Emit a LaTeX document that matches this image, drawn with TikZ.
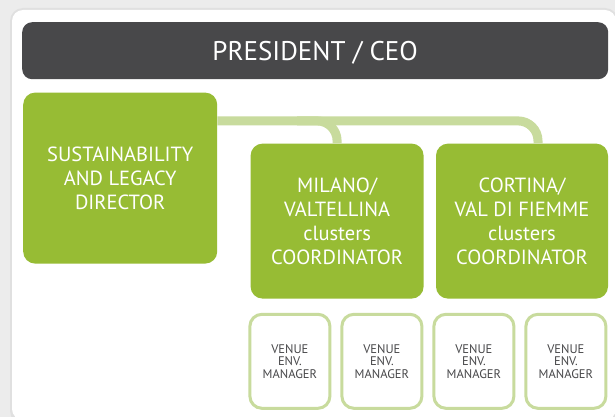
\documentclass[tikz,border=0pt]{standalone}
\usepackage{fontspec}
\setmainfont{PT Sans}
\usepackage{tikz}
\usetikzlibrary{positioning, calc}
\definecolor{pageGray}{RGB}{236, 236, 236}
\definecolor{shadowGray}{RGB}{224, 224, 224}
\definecolor{ceoBg}{RGB}{72, 72, 74}
\definecolor{greenBoxBg}{RGB}{151, 188, 52}
\definecolor{greenLineFg}{RGB}{200, 219, 157}
\definecolor{venueFg}{RGB}{72, 72, 74}
\tikzstyle{ceobox} = [rectangle, rounded corners=10pt, fill=ceoBg, text=white, minimum width=586pt, minimum height=57pt, text depth=0pt, font=\fontsize{27}{30}\selectfont]
\tikzstyle{greenbox} = [rectangle, rounded corners=12pt, fill=greenBoxBg, text=white, align=center, font=\fontsize{20.5}{24}\selectfont]
\tikzstyle{venuebox} = [rectangle, rounded corners=12pt, draw=greenLineFg, line width=3pt, fill=white, text=venueFg, align=center, minimum width=80pt, minimum height=94pt, font=\fontsize{12.5}{12.5}\selectfont]
\tikzstyle{conn} = [draw=greenLineFg, line width=9pt, rounded corners=20pt]

\begin{document}
\begin{tikzpicture}[x=1pt, y=-1pt, node distance=0pt]

\fill [pageGray] (0,0) rectangle (615,417);
\useasboundingbox (0,0) rectangle (615,417);
\fill [shadowGray, rounded corners=13pt] (10,8) rectangle (618,424);
\fill [white, rounded corners=11pt] (12,10) rectangle (616,420);

\node (ceo) [ceobox, anchor=north west] at (22,22) {PRESIDENT / CEO};

\node (sust) [greenbox, minimum width=194pt, minimum height=171pt, anchor=north west, xshift=1pt, yshift=-13pt] at (ceo.south west) {SUSTAINABILITY\\AND LEGACY\\DIRECTOR};
\node (milano) [greenbox, minimum width=173pt, minimum height=155pt, anchor=north west, xshift=33pt, yshift=-51pt] at (sust.north east) {MILANO/\\VALTELLINA\\clusters\\COORDINATOR};
\node (cortina) [greenbox, minimum width=172pt, minimum height=155pt, anchor=north west, xshift=12pt] at (milano.north east) {CORTINA/\\VAL DI FIEMME\\clusters\\COORDINATOR};

\node (venue1) [venuebox, anchor=north west, xshift=-2pt, yshift=-14pt] at (milano.south west) {VENUE\\ENV.\\MANAGER};
\node (venue2) [venuebox, right=9pt of venue1] {VENUE\\ENV.\\MANAGER};
\node (venue3) [venuebox, right=9pt of venue2] {VENUE\\ENV.\\MANAGER};
\node (venue4) [venuebox, right=9pt of venue3] {VENUE\\ENV.\\MANAGER};

\coordinate (cortinaDrop) at ($(cortina.north)+(16,0)$);
\coordinate (milanoTurn) at ($(milano.north)+(-40,-22.5)$);
\draw [conn] (sust.east |- milanoTurn) -| (cortinaDrop);
\draw [conn] (milanoTurn) -| (milano.north);

\end{tikzpicture}
\end{document}
